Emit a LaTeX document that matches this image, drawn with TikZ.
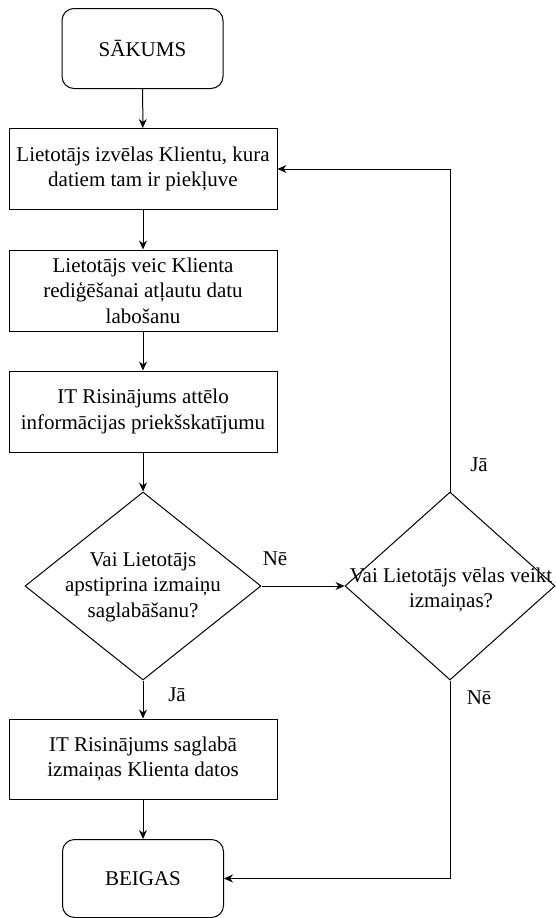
\documentclass[tikz,border=0pt]{standalone}
\usepackage{fontspec}
\setmainfont{Liberation Serif}
\usetikzlibrary{shapes.geometric,arrows.meta}
\begin{document}
\begin{tikzpicture}[x=1pt,y=-1pt,
  font=\fontsize{21}{25.5}\selectfont,
  box/.style={draw, line width=1pt, minimum width=268pt, minimum height=81pt, align=center, inner sep=2pt},
  term/.style={draw, line width=1pt, rounded corners=12pt, minimum width=161pt, minimum height=80pt, align=center},
  dia/.style={draw, line width=1pt, diamond, inner sep=0pt},
  txt/.style={align=center, inner sep=0pt},
  lbl/.style={inner sep=0pt},
  conn/.style={draw, line width=1pt, -{Stealth[length=9pt,width=8pt,inset=3pt]}}
]
\useasboundingbox (0,0) rectangle (556,918);
\node[term] (start) at (142.5,48.5) {SĀKUMS};
\node[box] (b1) at (143,169) {Lietotājs izvēlas Klientu, kura\\datiem tam ir piekļuve};
\node[box] (b2) at (143,290.5) {Lietotājs veic Klienta\\rediģēšanai atļautu datu\\labošanu};
\node[box] (b3) at (143,411.5) {IT Risinājums attēlo\\informācijas priekšskatījumu};
\node[dia, minimum width=236pt, minimum height=188pt] (d1) at (143,586) {};
\node[txt] (d1t) at (143,587) {Vai Lietotājs\\apstiprina izmaiņu\\saglabāšanu?};
\node[dia, minimum width=210pt, minimum height=188pt] (d2) at (450,586) {};
\node[txt] (d2t) at (451,590) {Vai Lietotājs vēlas veikt\\izmaiņas?};
\node[box, minimum height=80pt] (b4) at (143,759) {IT Risinājums saglabā\\izmaiņas Klienta datos};
\node[term, minimum height=78pt] (end) at (143,878.5) {BEIGAS};

\path[conn] (start) -- (b1);
\path[conn] (b1) -- (b2);
\path[conn] (b2) -- (b3);
\path[conn] (b3) -- (d1);
\path[conn] (d1) -- (b4);
\path[conn] (b4) -- (end);
\path[conn] (d1.east) -- (d2.west);
\path[conn] (d2.north) |- (b1.east);
\path[conn] (d2.south) |- (end.east);

\node[lbl] (lne1) at (275,559) {Nē};
\node[lbl] (lja1) at (177,695) {Jā};
\node[lbl] (lja2) at (479,465) {Jā};
\node[lbl] (lne2) at (479,698) {Nē};
\end{tikzpicture}
\end{document}
